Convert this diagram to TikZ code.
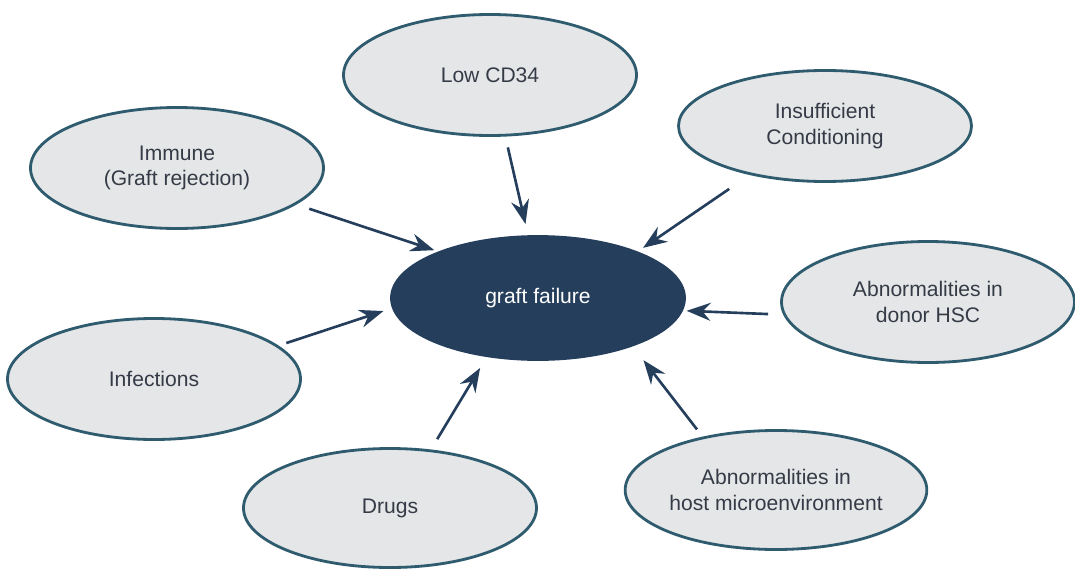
\documentclass[tikz,border=0pt]{standalone}
\usepackage{fontspec}
\setmainfont{Liberation Sans}
\usetikzlibrary{shapes.geometric}
\usetikzlibrary{arrows.meta}
\definecolor{causefill}{HTML}{E5E6E8}
\definecolor{rim}{HTML}{2F5B6E}
\definecolor{navy}{HTML}{243E5C}
\definecolor{ink}{HTML}{353B46}

\begin{document}
\begin{tikzpicture}[
  cause/.style={ellipse, draw=rim, line width=1.6pt, fill=causefill, text=ink,
    align=center, inner sep=0pt, minimum width=5.86cm, minimum height=2.42cm,
    font=\fontsize{12}{14.5}\selectfont},
  hub/.style={cause, draw=navy, fill=navy, text=white, minimum height=2.46cm},
  arr/.style={draw=navy, line width=1.5pt, -{Stealth[length=4.8mm,width=3.6mm,inset=1.6mm]}}]
\useasboundingbox (0,0) rectangle (21.5,11.42);
\node[hub] (gf) at (10.76,5.46) {graft failure};
\node[cause] (lowcd) at (9.80,9.92) {Low CD34};
\node[cause, minimum height=2.22cm] (insuff) at (16.50,8.90) {Insufficient\\Conditioning};
\node[cause] (immune) at (3.54,8.06) {Immune\\(Graft rejection)};
\node[cause] (donor) at (18.56,5.38) {Abnormalities in\\donor HSC};
\node[cause] (infect) at (3.08,3.84) {Infections};
\node[cause, minimum height=2.38cm] (drugs) at (7.80,1.26) {Drugs};
\node[cause, minimum height=2.38cm] (host) at (15.52,1.62) {Abnormalities in\\host microenvironment};
\foreach \src/\from/\to/\gapa/\gapb in {immune/-17.4/155.9/.27/.085, lowcd/-76.8/99.9/.222/.23,
  insuff/-147.4/25.9/.495/.13, donor/-175.7/-5.85/.304/.074, infect/15.8/184.7/.163/.181,
  drugs/55.6/-131/.241/.256, host/144.7/-27.2/.183/.351}
  \draw[arr, shorten <=\gapa cm, shorten >=\gapb cm] (\src.\from) -- (gf.\to);
\end{tikzpicture}
\end{document}
